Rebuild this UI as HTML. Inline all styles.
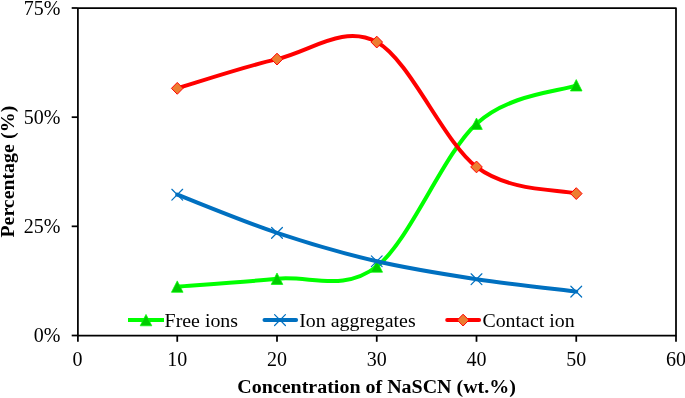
<!DOCTYPE html>
<html><head><meta charset="utf-8"><style>
html,body{margin:0;padding:0;background:#fff;}
body{width:685px;height:398px;overflow:hidden;position:relative;}
svg{position:absolute;left:0;top:0;display:block;will-change:transform;}
.t{font-family:"Liberation Serif",serif;font-size:19.5px;fill:#000;}
.b{font-family:"Liberation Serif",serif;font-size:19.6px;font-weight:bold;fill:#000;}
</style></head><body>
<svg width="685" height="398" viewBox="0 0 685 398">
<path d="M77.9,335.5 H676.0 V8.0 H77.9" fill="none" stroke="#000" stroke-width="1.75" stroke-linejoin="round"/>
<path d="M77.9,8.0 V335.5" fill="none" stroke="#000" stroke-width="1.75"/>
<path d="M71.7,335.50 H77.9" stroke="#000" stroke-width="1.75"/>
<path d="M71.7,226.33 H77.9" stroke="#000" stroke-width="1.75"/>
<path d="M71.7,117.17 H77.9" stroke="#000" stroke-width="1.75"/>
<path d="M71.7,8.00 H77.9" stroke="#000" stroke-width="1.75"/>
<path d="M77.90,335.5 V341.8" stroke="#000" stroke-width="1.75"/>
<path d="M177.25,335.5 V341.8" stroke="#000" stroke-width="1.75"/>
<path d="M277.00,335.5 V341.8" stroke="#000" stroke-width="1.75"/>
<path d="M376.75,335.5 V341.8" stroke="#000" stroke-width="1.75"/>
<path d="M476.50,335.5 V341.8" stroke="#000" stroke-width="1.75"/>
<path d="M576.25,335.5 V341.8" stroke="#000" stroke-width="1.75"/>
<path d="M676.00,335.5 V341.8" stroke="#000" stroke-width="1.75"/>
<text transform="translate(60.30,342.40) scale(1.000,1)" text-anchor="end" class="t" style="font-size:20.0px">0%</text>
<text transform="translate(60.30,233.23) scale(1.000,1)" text-anchor="end" class="t" style="font-size:20.0px">25%</text>
<text transform="translate(60.30,124.07) scale(1.000,1)" text-anchor="end" class="t" style="font-size:20.0px">50%</text>
<text transform="translate(60.30,14.90) scale(1.000,1)" text-anchor="end" class="t" style="font-size:20.0px">75%</text>
<text transform="translate(77.50,365.60) scale(1.000,1)" text-anchor="middle" class="t" style="font-size:20.0px">0</text>
<text transform="translate(177.25,365.60) scale(1.000,1)" text-anchor="middle" class="t" style="font-size:20.0px">10</text>
<text transform="translate(277.00,365.60) scale(1.000,1)" text-anchor="middle" class="t" style="font-size:20.0px">20</text>
<text transform="translate(376.75,365.60) scale(1.000,1)" text-anchor="middle" class="t" style="font-size:20.0px">30</text>
<text transform="translate(476.50,365.60) scale(1.000,1)" text-anchor="middle" class="t" style="font-size:20.0px">40</text>
<text transform="translate(576.25,365.60) scale(1.000,1)" text-anchor="middle" class="t" style="font-size:20.0px">50</text>
<text transform="translate(676.00,365.60) scale(1.000,1)" text-anchor="middle" class="t" style="font-size:20.0px">60</text>
<text transform="translate(376.60,393.40) scale(1.020,1)" text-anchor="middle" class="b">Concentration of NaSCN (wt.%)</text>
<text transform="translate(13.70,237.5) rotate(-90) scale(1.012,1)" text-anchor="start" class="b">Percentage</text>
<text transform="translate(13.70,105.6) rotate(-90) scale(1.020,1)" text-anchor="end" class="b">(%)</text>
<path d="M177.25,286.59 C193.88,285.28 243.75,282.08 277.00,278.73 C310.25,275.39 343.50,292.34 376.75,266.51 C410.00,240.67 443.25,153.92 476.50,123.72 C509.75,93.51 559.62,91.69 576.25,85.29" fill="none" stroke="#00FF00" stroke-width="4" stroke-linecap="round" stroke-linejoin="round"/>
<path d="M177.25,280.89 L183.05,292.29 L171.45,292.29 Z" fill="#00CC00" stroke="#00FF00" stroke-width="0.75"/>
<path d="M277.00,273.03 L282.80,284.43 L271.20,284.43 Z" fill="#00CC00" stroke="#00FF00" stroke-width="0.75"/>
<path d="M376.75,260.81 L382.55,272.21 L370.95,272.21 Z" fill="#00CC00" stroke="#00FF00" stroke-width="0.75"/>
<path d="M476.50,118.02 L482.30,129.42 L470.70,129.42 Z" fill="#00CC00" stroke="#00FF00" stroke-width="0.75"/>
<path d="M576.25,79.59 L582.05,90.99 L570.45,90.99 Z" fill="#00CC00" stroke="#00FF00" stroke-width="0.75"/>
<path d="M177.25,194.68 C193.88,201.04 243.75,221.78 277.00,232.88 C310.25,243.98 343.50,253.55 376.75,261.27 C410.00,268.98 443.25,274.11 476.50,279.17 C509.75,284.23 559.62,289.54 576.25,291.62" fill="none" stroke="#0070C0" stroke-width="4" stroke-linecap="round" stroke-linejoin="round"/>
<path d="M171.85,189.28 L182.65,200.08 M171.85,200.08 L182.65,189.28" stroke="#0070C0" stroke-width="1.2" stroke-linecap="round" fill="none"/>
<path d="M271.60,227.48 L282.40,238.28 M271.60,238.28 L282.40,227.48" stroke="#0070C0" stroke-width="1.2" stroke-linecap="round" fill="none"/>
<path d="M371.35,255.87 L382.15,266.67 M371.35,266.67 L382.15,255.87" stroke="#0070C0" stroke-width="1.2" stroke-linecap="round" fill="none"/>
<path d="M471.10,273.77 L481.90,284.57 M471.10,284.57 L481.90,273.77" stroke="#0070C0" stroke-width="1.2" stroke-linecap="round" fill="none"/>
<path d="M570.85,286.22 L581.65,297.01 M570.85,297.01 L581.65,286.22" stroke="#0070C0" stroke-width="1.2" stroke-linecap="round" fill="none"/>
<path d="M177.25,88.35 C193.88,83.47 243.75,66.80 277.00,59.09 C310.25,51.38 343.50,24.08 376.75,42.06 C410.00,60.04 443.25,141.69 476.50,166.95 C509.75,192.20 559.62,189.14 576.25,193.58" fill="none" stroke="#FF0000" stroke-width="4" stroke-linecap="round" stroke-linejoin="round"/>
<path d="M177.25,82.45 L183.05,88.35 L177.25,94.25 L171.45,88.35 Z" fill="#ED7D31" stroke="#FF0000" stroke-width="1"/>
<path d="M277.00,53.19 L282.80,59.09 L277.00,64.99 L271.20,59.09 Z" fill="#ED7D31" stroke="#FF0000" stroke-width="1"/>
<path d="M376.75,36.16 L382.55,42.06 L376.75,47.96 L370.95,42.06 Z" fill="#ED7D31" stroke="#FF0000" stroke-width="1"/>
<path d="M476.50,161.05 L482.30,166.95 L476.50,172.85 L470.70,166.95 Z" fill="#ED7D31" stroke="#FF0000" stroke-width="1"/>
<path d="M576.25,187.68 L582.05,193.58 L576.25,199.48 L570.45,193.58 Z" fill="#ED7D31" stroke="#FF0000" stroke-width="1"/>
<path d="M128,320.1 H164" stroke="#00FF00" stroke-width="4" stroke-linecap="butt"/>
<path d="M146.00,314.40 L151.80,325.80 L140.20,325.80 Z" fill="#00CC00" stroke="#00FF00" stroke-width="0.75"/>
<text transform="translate(164.60,326.80) scale(1.020,1)" text-anchor="start" class="t">Free ions</text>
<path d="M264.5,320.1 H296.1" stroke="#0070C0" stroke-width="4" stroke-linecap="round"/>
<path d="M274.60,314.70 L285.40,325.50 M274.60,325.50 L285.40,314.70" stroke="#0070C0" stroke-width="1.2" stroke-linecap="round" fill="none"/>
<text transform="translate(299.20,326.80) scale(1.020,1)" text-anchor="start" class="t">Ion aggregates</text>
<path d="M447.2,320.1 H479.1" stroke="#FF0000" stroke-width="4" stroke-linecap="round"/>
<path d="M463.10,314.20 L468.90,320.10 L463.10,326.00 L457.30,320.10 Z" fill="#ED7D31" stroke="#FF0000" stroke-width="1"/>
<text transform="translate(482.40,326.80) scale(1.020,1)" text-anchor="start" class="t">Contact ion</text>
</svg>
</body></html>
